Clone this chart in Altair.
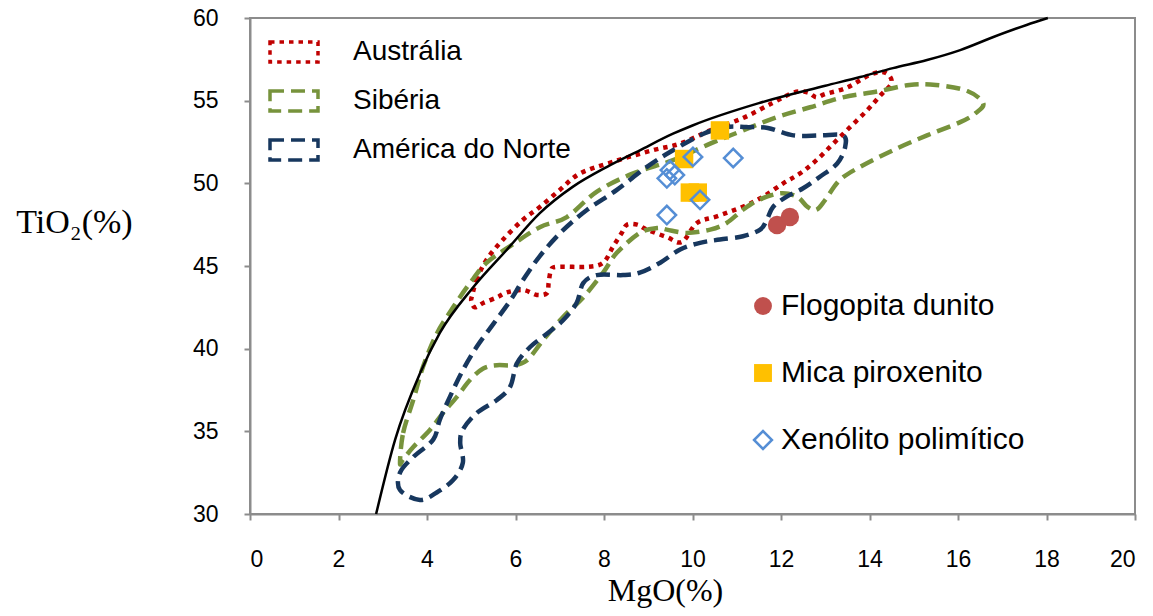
import altair as alt
import pandas as pd

# ---------------- data (MgO %, TiO2 %) ----------------
regions = ["Austrália", "Sibéria", "América do Norte"]
region_colors = ["#C00000", "#77933C", "#17375E"]

aus_x = [5.02, 5.12, 5.35, 5.72, 6.17, 6.55, 7.0, 7.46, 8.2, 9.1, 9.72, 10.4, 11.14, 11.8,
         12.3, 12.6, 12.8, 13.0, 13.5, 14.0, 14.35, 14.5, 14.24, 13.94, 13.56, 13.18, 12.8,
         12.43, 12.05, 11.6, 11.15, 10.55, 10.1, 9.76, 9.42, 8.97, 8.75, 8.52, 8.4, 8.2,
         7.98, 7.62, 6.93, 6.8, 6.75, 6.71, 6.48, 6.17, 5.8, 5.58, 5.27, 5.08, 5.0]
aus_y = [43.2, 44.15, 45.4, 46.6, 47.8, 48.57, 49.6, 50.6, 51.3, 52.0, 52.4, 53.2, 53.95, 54.85,
         55.5, 55.5, 55.2, 55.4, 55.8, 56.55, 56.7, 56.1, 55.3, 54.4, 53.4, 52.4, 51.4,
         50.6, 50.0, 49.2, 48.6, 48.0, 47.6, 46.45, 46.75, 47.2, 47.5, 47.5, 47.0, 46.15,
         45.2, 44.95, 44.95, 44.7, 44.0, 43.36, 43.25, 43.55, 43.4, 43.1, 42.76, 42.5, 42.9]

sib_x = [3.39, 3.46, 3.69, 3.91, 4.22, 4.59, 4.97, 5.35, 5.88, 6.55, 7.16, 7.84, 8.66, 9.56,
         10.4, 11.14, 11.9, 12.66, 13.4, 14.17, 14.9, 15.5, 16.2, 16.57, 16.4, 16.05, 15.3,
         14.53, 13.79, 13.33, 13.0, 12.8, 12.6, 12.36, 11.98, 11.5, 11.14, 10.77, 10.4, 9.87,
         9.42, 9.2, 8.81, 8.29, 7.98, 7.53, 7.07, 6.62, 6.26, 5.95, 5.58, 5.27, 4.97, 4.68,
         4.36, 4.07, 3.69, 3.46]
sib_y = [33.1, 34.9, 36.9, 38.9, 40.9, 42.5, 43.96, 45.2, 46.2, 47.35, 47.96, 49.5, 50.6, 51.4,
         52.4, 53.2, 54.0, 54.6, 55.2, 55.55, 55.95, 55.95, 55.6, 54.85, 54.25, 53.7, 52.9,
         52.0, 51.0, 50.2, 49.0, 48.4, 48.57, 49.2, 49.4, 49.0, 48.4, 47.6, 47.2, 47.0,
         47.2, 47.3, 47.0, 45.8, 44.6, 43.1, 41.9, 40.5, 39.3, 39.0, 39.0, 38.8, 38.1, 37.1,
         36.1, 35.1, 34.05, 33.3]

nam_x = [3.39, 3.39, 3.69, 4.14, 4.29, 4.52, 4.81, 5.12, 5.5, 5.88, 6.17, 6.55, 7.05, 7.62,
         8.29, 8.97, 9.56, 10.25, 10.77, 11.22, 11.7, 12.28, 12.88, 13.4, 13.45, 13.27, 12.88,
         12.5, 12.13, 11.82, 11.68, 11.53, 11.14, 10.62, 10.17, 9.72, 9.27, 8.81, 8.43, 7.84,
         7.53, 7.38, 7.07, 6.71, 6.33, 6.03, 5.88, 5.58, 5.12, 4.81, 4.75, 4.81, 4.59, 4.22,
         3.84]
nam_y = [31.45, 32.5, 33.45, 34.5, 35.7, 37.1, 38.7, 40.1, 41.5, 42.9, 44.15, 45.6, 47.1, 48.4,
         49.6, 51.0, 52.0, 53.0, 53.4, 53.4, 53.35, 52.9, 52.9, 52.9, 52.2, 51.2, 50.4,
         49.7, 49.2, 48.57, 47.8, 47.2, 46.8, 46.6, 46.4, 46.0, 45.2, 44.6, 44.45, 44.45,
         43.96, 42.76, 41.7, 40.9, 40.1, 39.1, 37.7, 36.9, 36.1, 35.1, 34.3, 33.1, 32.05, 31.3,
         30.85]

curve_x = [2.85, 3.28, 3.84, 4.29, 5.04, 5.8, 6.55, 7.3, 8.07, 8.81, 9.56, 10.0, 11.5, 13.0,
           13.79, 14.53, 15.3, 16.05, 16.8, 17.55, 18.03]
curve_y = [30.0, 34.5, 38.5, 40.95, 43.7, 45.97, 48.2, 49.8, 51.0, 52.0, 53.0, 53.5, 54.85, 55.9,
           56.43, 56.97, 57.46, 58.06, 58.85, 59.58, 60.0]

types = ["Flogopita dunito", "Mica piroxenito", "Xenólito polimítico"]
flog_x = [11.91, 12.2]
flog_y = [47.48, 47.96]
mica_x = [10.62, 9.81, 9.94, 10.12]
mica_y = [53.2, 51.47, 49.44, 49.44]
xeno_x = [10.01, 10.92, 9.49, 9.6, 9.42, 10.17, 9.42]
xeno_y = [51.6, 51.53, 50.8, 50.5, 50.3, 49.0, 48.08]

# ---------------- tables ----------------
rows = []
for name, xs, ys in zip(regions, [aus_x, sib_x, nam_x], [aus_y, sib_y, nam_y]):
    for i, (a, b) in enumerate(zip(xs, ys)):
        rows.append({"Regiao": name, "MgO": a, "TiO2": b, "i": i})
contours = pd.DataFrame(rows)

curve = pd.DataFrame({"MgO": curve_x, "TiO2": curve_y, "i": range(len(curve_x))})

prow = []
for name, xs, ys in zip(types, [flog_x, mica_x, xeno_x], [flog_y, mica_y, xeno_y]):
    for a, b in zip(xs, ys):
        prow.append({"Tipo": name, "MgO": a, "TiO2": b})
points = pd.DataFrame(prow)

# ---------------- encodings ----------------
x_enc = alt.X("MgO:Q", scale=alt.Scale(domain=[0, 20], nice=False, zero=False),
              axis=alt.Axis(values=list(range(0, 21, 2)), title="MgO(%)",
                            labelPadding=28, titleX=415, titleY=86, titleFontSize=32,
                            titleBaseline="alphabetic", titleAlign="center"))
y_enc = alt.Y("TiO2:Q", scale=alt.Scale(domain=[30, 60], nice=False, zero=False),
              axis=alt.Axis(values=list(range(30, 61, 5)), title="TiO₂(%)",
                            labelPadding=26, titleAngle=0, titleX=-176, titleY=214,
                            titleAlign="center", titleBaseline="alphabetic"))

region_legend = alt.Legend(title=None, orient="none", legendX=18, legendY=8,
                           symbolType="M-1,-0.42H1V0.42H-1Z", symbolSize=2304,
                           symbolStrokeWidth=3.5, symbolFillColor="transparent",
                           labelFont="Liberation Sans", labelFontSize=28, labelColor="black",
                           labelOffset=33, rowPadding=5, padding=0, labelLimit=500)

lines = alt.Chart(contours).mark_line(strokeWidth=4.5, interpolate="cardinal-closed").encode(
    x=x_enc, y=y_enc,
    color=alt.Color("Regiao:N", scale=alt.Scale(domain=regions, range=region_colors),
                    legend=region_legend),
    strokeDash=alt.StrokeDash("Regiao:N",
                              scale=alt.Scale(domain=regions,
                                              range=[[4.5, 5], [14, 7], [14, 7]]),
                              legend=region_legend),
    order=alt.Order("i:Q"),
)

black = alt.Chart(curve).mark_line(color="black", strokeWidth=2.5, interpolate="monotone").encode(
    x=x_enc, y=y_enc, order=alt.Order("i:Q"))

type_legend = alt.Legend(title=None, orient="none", legendX=498, legendY=273,
                         symbolSize=320, symbolStrokeWidth=2.5,
                         labelFont="Liberation Sans", labelFontSize=30, labelColor="black",
                         labelOffset=3, rowPadding=37, padding=0, labelLimit=500)

pts = alt.Chart(points).mark_point(size=340, strokeWidth=2.5, opacity=1, fillOpacity=1).encode(
    x=x_enc, y=y_enc,
    shape=alt.Shape("Tipo:N", scale=alt.Scale(domain=types, range=["circle", "square", "diamond"]),
                    legend=type_legend),
    fill=alt.Fill("Tipo:N", scale=alt.Scale(domain=types, range=["#C0504D", "#FFC000", "transparent"]),
                  legend=type_legend),
    stroke=alt.Stroke("Tipo:N", scale=alt.Scale(domain=types, range=["transparent", "transparent", "#558ED5"]),
                      legend=type_legend),
)

chart = alt.layer(lines, black, pts).properties(
    width=885, height=496,
    background="white",
    autosize=alt.AutoSizeParams(type="none"),
    padding={"left": 242, "top": 10, "right": 10, "bottom": 94},
).configure_view(stroke="#8c8c8c", strokeWidth=2).configure_axis(
    grid=False, domainColor="#8c8c8c", domainWidth=2, tickColor="#8c8c8c", tickWidth=2,
    tickSize=6, labelFont="Liberation Sans", labelFontSize=23, labelColor="black",
    titleFont="Liberation Serif", titleFontSize=34, titleFontWeight="normal", titleColor="black",
)

chart.save("out.html", embed_options={"renderer": "svg", "actions": False})
